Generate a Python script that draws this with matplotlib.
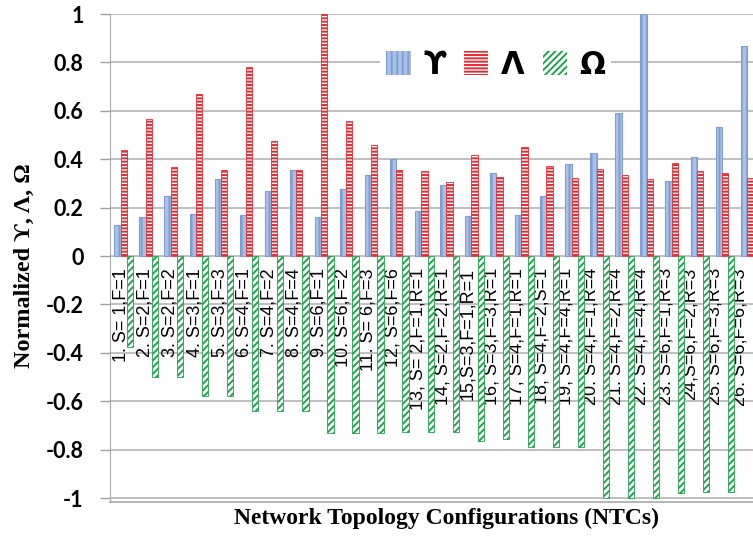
import matplotlib
matplotlib.use("Agg")
import matplotlib.pyplot as plt
from matplotlib.patches import Patch
import numpy as np

# Normalized values (26 topology configurations)
ntc_labels = [
    "1. S= 1,F=1", "2. S=2,F=1", "3. S=2,F=2", "4. S=3,F=1", "5. S=3,F=3",
    "6. S=4,F=1", "7. S=4,F=2", "8. S=4,F=4", "9. S=6,F=1", "10. S=6,F=2",
    "11. S= 6,F=3", "12, S=6,F=6", "13, S= 2,F=1,R=1", "14, S=2,F=2,R=1",
    "15,S=3,F=1,R=1", "16, S=3,F=3,R=1", "17, S=4,F=1,R=1", "18, S=4,F=2,S=1",
    "19, S=4,F=4,R=1", "20. S=4,F=1,R=4", "21. S=4,F=2,R=4", "22. S=4,F=4,R=4",
    "23. S=6,F=1,R=3", "24,S=6,F=2,R=3", "25. S=6,F=3,R=3", "26. S=6,F=6,R=3",
]
upsilon = [0.13, 0.16, 0.25, 0.175, 0.32, 0.17, 0.27, 0.356, 0.16, 0.277,
           0.335, 0.40, 0.188, 0.295, 0.167, 0.342, 0.168, 0.247, 0.382, 0.427,
           0.593, 1.0, 0.311, 0.411, 0.534, 0.867]
lam = [0.44, 0.566, 0.366, 0.67, 0.356, 0.78, 0.477, 0.355, 1.0, 0.56,
       0.46, 0.356, 0.353, 0.304, 0.418, 0.326, 0.452, 0.373, 0.322, 0.359,
       0.336, 0.319, 0.386, 0.352, 0.342, 0.322]
omega = [-0.374, -0.50, -0.50, -0.578, -0.578, -0.642, -0.642, -0.642, -0.729, -0.729,
         -0.73, -0.725, -0.725, -0.725, -0.762, -0.757, -0.787, -0.787, -0.79, -1.0,
         -1.0, -1.0, -0.977, -0.973, -0.973, -0.99]

plt.rcParams['hatch.linewidth'] = 1.4

fig = plt.figure(figsize=(7.53, 5.37), dpi=100)
ax = fig.add_axes([110 / 753, 1 - 502 / 537, 643 / 753, 488 / 537])

x = np.arange(len(ntc_labels))
w = 0.25
blue_face, blue_edge = '#a9c1e6', '#7f9fd2'
red_edge = '#e62a33'
green_edge = '#20a24c'

ax.bar(x - 0.2, upsilon, w, color=blue_face, edgecolor=blue_edge, hatch='|||',
       linewidth=0.8, zorder=3)
ax.bar(x + 0.05, lam, w, color='white', edgecolor=red_edge, hatch='-----',
       linewidth=0.6, zorder=3)
ax.bar(x + 0.3, omega, w, color='white', edgecolor=green_edge, hatch='/////',
       linewidth=0.6, zorder=3)

# category labels sit inside the plot, hanging down from zero
# (the original 3D layout drifts them slightly left towards the right side)
for i, lab in enumerate(ntc_labels):
    ax.text(i - 0.08 - 0.011 * i, -0.05, lab, rotation=90, ha='center', va='top',
            fontsize=13, family=['Liberation Sans', 'DejaVu Sans'], zorder=2)

ax.set_xlim(-0.5, -0.5 + 643 / 25.05)
ax.set_ylim(-1.016, 1.0)
ax.set_yticks(np.arange(-1, 1.01, 0.2))
ax.set_yticklabels(['-1', '-0.8', '-0.6', '-0.4', '-0.2', '0', '0.2', '0.4', '0.6', '0.8', '1'])
ax.set_xticks([])
for t in ax.get_yticklabels():
    t.set_fontfamily(['Lato', 'DejaVu Sans'])
    t.set_fontweight('bold')
    t.set_fontsize(15.5)
ax.tick_params(axis='y', length=7, width=1, color='#a0a0a0', pad=12)

ax.grid(axis='y', color='#b4b4b4', linewidth=1.2, zorder=0)
ax.set_axisbelow(True)
for s in ['top', 'right']:
    ax.spines[s].set_visible(False)
ax.spines['left'].set_color('#a8a8a8')
ax.spines['bottom'].set_color('#a8a8a8')
ax.spines['bottom'].set_linewidth(1.2)

handles = [
    Patch(facecolor=blue_face, edgecolor=blue_edge, hatch='|||', linewidth=0),
    Patch(facecolor='white', edgecolor=red_edge, hatch='-----', linewidth=0),
    Patch(facecolor='white', edgecolor=green_edge, hatch='/////', linewidth=0),
]
leg = ax.legend(handles, ['ϒ', 'Λ', 'Ω'], loc='center', bbox_to_anchor=(0.6, 0.895),
                ncol=3, frameon=True, facecolor='white', edgecolor='none', framealpha=1,
                handlelength=0.8, handleheight=0.8, handletextpad=0.4, columnspacing=0.6,
                borderpad=0.2, prop={'family': ['DejaVu Sans'], 'weight': 'bold', 'size': 22})
leg.set_zorder(4)

fig.text(24 / 753, 1 - 266 / 537, 'Normalized ϒ, Λ, Ω', rotation=90, ha='center', va='center',
         fontsize=17.5, fontweight='bold', family=['Liberation Serif', 'DejaVu Serif'])
fig.text(446 / 753, 1 - 518 / 537, 'Network Topology Configurations (NTCs)', ha='center',
         va='center', fontsize=17, fontweight='bold', family=['Liberation Serif', 'DejaVu Serif'])

fig.savefig('out.png', dpi=100)
